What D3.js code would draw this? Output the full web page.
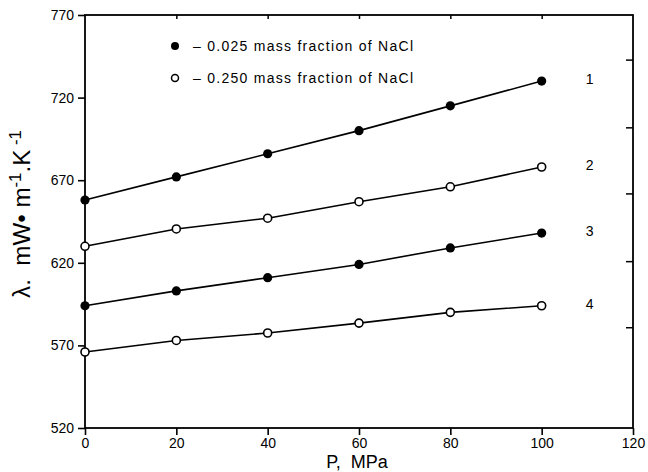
<!DOCTYPE html>
<html><head><meta charset="utf-8">
<script src="https://cdn.jsdelivr.net/npm/d3@7"></script>
<style>body{margin:0;background:#fff}svg{display:block}text{font-family:"Liberation Sans",Arial,sans-serif;fill:#000}</style>
</head><body><svg id="c" width="648" height="472"></svg>
<script>
const pressure = [0, 20, 40, 60, 80, 100];
const series1 = [658, 672, 686, 700, 715, 730];
const series2 = [630, 640.5, 647, 657, 666, 678];
const series3 = [594, 603, 611, 619, 629, 638];
const series4 = [566, 573, 577.5, 583.5, 590, 594];
const seriesNames = ["1", "2", "3", "4"];
const seriesFilled = [true, false, true, false];
const xTicks = [0, 20, 40, 60, 80, 100, 120];
const yTicks = [520, 570, 620, 670, 720, 770];
const rightTicks = [743, 702, 662, 621, 581];
const legendLabels = ["\u2013  0.025  mass  fraction  of  NaCl", "\u2013  0.250  mass  fraction  of  NaCl"];

const svg = d3.select("#c");
const x = d3.scaleLinear().domain([0, 120]).range([85, 633]);
const y = d3.scaleLinear().domain([520, 770]).range([428, 15]);
const FONT = '"Liberation Sans",Arial,sans-serif';

// frame
svg.append("rect").attr("x", x(0)).attr("y", y(770)).attr("width", x(120) - x(0)).attr("height", y(520) - y(770))
  .attr("fill", "none").attr("stroke", "#000").attr("stroke-width", 1.8);

// bottom axis
const gx = svg.append("g").attr("transform", `translate(0,${y(520)})`)
  .call(d3.axisBottom(x).tickValues(xTicks).tickSize(7).tickPadding(3).tickFormat(d3.format("d")));
// left axis
const gy = svg.append("g").attr("transform", `translate(${x(0)},0)`)
  .call(d3.axisLeft(y).tickValues(yTicks).tickSize(7).tickPadding(4).tickFormat(d3.format("d")));
[gx, gy].forEach(g => {
  g.select(".domain").remove();
  g.selectAll("line").attr("stroke", "#000").attr("stroke-width", 1.6);
  g.selectAll("text").style("font-size", "14px").style("font-family", FONT).attr("fill", "#000");
});
// top inward ticks
const gt = svg.append("g").attr("transform", `translate(0,${y(770)})`)
  .call(d3.axisBottom(x).tickValues([20, 40, 60, 80, 100]).tickSize(4).tickFormat(""));
gt.select(".domain").remove();
gt.selectAll("line").attr("stroke", "#000").attr("stroke-width", 1.5);
// right inward ticks
const gr = svg.append("g").attr("transform", `translate(${x(120)},0)`)
  .call(d3.axisLeft(y).tickValues(rightTicks).tickSize(7).tickFormat(""));
gr.select(".domain").remove();
gr.selectAll("line").attr("stroke", "#000").attr("stroke-width", 1.5);

// series
const allSeries = [series1, series2, series3, series4];
const line = d3.line().x((d, i) => x(pressure[i])).y(d => y(d));
allSeries.forEach((s, k) => {
  svg.append("path").datum(s).attr("d", line).attr("fill", "none").attr("stroke", "#000").attr("stroke-width", 1.6);
  svg.selectAll(null).data(s).enter().append("circle")
    .attr("cx", (d, i) => x(pressure[i])).attr("cy", d => y(d))
    .attr("r", seriesFilled[k] ? 4.6 : 4)
    .attr("fill", seriesFilled[k] ? "#000" : "#fff")
    .attr("stroke", "#000").attr("stroke-width", seriesFilled[k] ? 0 : 1.6);
  svg.append("text").attr("x", x(110.5)).attr("y", y(s[s.length - 1]) + 3)
    .attr("text-anchor", "middle").style("font-size", "14px").text(seriesNames[k]);
});

// legend
legendLabels.forEach((t, i) => {
  const ly = 46 + i * 32;
  svg.append("circle").attr("cx", 175).attr("cy", ly).attr("r", i === 0 ? 4 : 3.5)
    .attr("fill", i === 0 ? "#000" : "#fff").attr("stroke", "#000").attr("stroke-width", i === 0 ? 0 : 1.5);
  svg.append("text").attr("x", 193).attr("y", ly + 5).style("font-size", "14px")
    .attr("textLength", 220).attr("lengthAdjust", "spacing").text(t);
});

// axis titles
svg.append("text").attr("x", 357).attr("y", 468).attr("text-anchor", "middle").style("font-size", "18px")
  .text("P,\u00a0\u00a0MPa");
const ytG = svg.append("g").attr("transform", "translate(30,214) rotate(-90)");
const yt = ytG.append("text").attr("text-anchor", "middle").style("font-size", "23px");
yt.append("tspan").text("\u03bb.\u00a0\u00a0mW\u2022\u00a0m");
yt.append("tspan").attr("dy", -9).style("font-size", "16px").text("-1");
yt.append("tspan").attr("dy", 9).text(".K");
yt.append("tspan").attr("dy", -9).style("font-size", "16px").text("\u00a0-1");
const w = yt.node().getBBox().width;
yt.attr("transform", `scale(${168 / w},1)`);
</script></body></html>
